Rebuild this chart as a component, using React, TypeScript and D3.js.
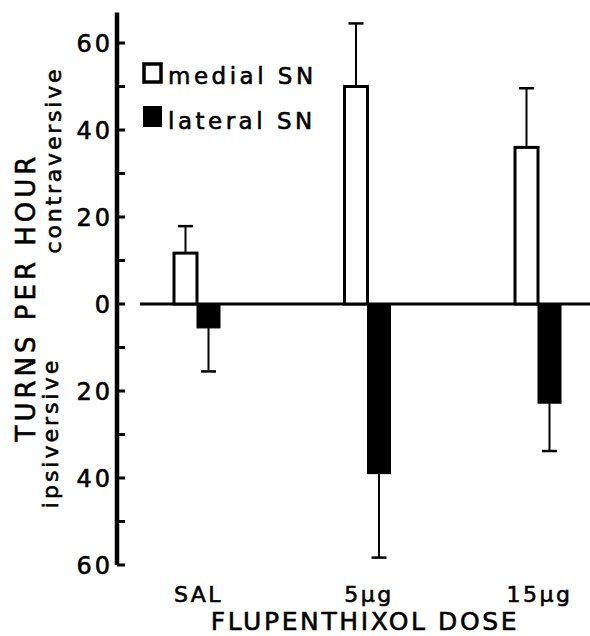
import { useEffect } from 'react';
import * as d3 from 'd3';

const categories = ['SAL', '5\u00b5g', '15\u00b5g'];
const medialMean = [11.7, 50, 36];
const medialSem = [6.2, 14.5, 13.6];
const lateralMean = [-5.5, -39, -22.8];
const lateralSem = [10, 19.3, 11];
const majorTicks = [-60, -40, -20, 0, 20, 40, 60];
const minorTicks = [-50, -30, -10, 10, 30, 50];
const legendLabels = ['medial SN', 'lateral SN'];

const W = 590, H = 636;
const font = '"DejaVu Sans", sans-serif';
// thicker glyphs, the scan has heavy type
const ink = { fill: '#000', stroke: '#000', strokeWidth: 0.6 };

const App = () => {
    useEffect(() => {
        document.body.style.margin = '0';
    }, []);

    const axisX = 117;
    const y = d3.scaleLinear().domain([-60, 60]).range([565, 43]);
    const x = d3.scalePoint().domain(categories).range([197, 538]);
    const barW = 23;
    const capW = 15;

    const bars = categories.map((c, i) => ({
        cat: c,
        cx: x(c),
        medial: medialMean[i],
        medialErr: medialSem[i],
        lateral: lateralMean[i],
        lateralErr: lateralSem[i],
    }));

    return (
        <svg width={W} height={H} viewBox={`0 0 ${W} ${H}`} style={{ display: 'block', background: '#fff' }} fontFamily={font}>
            {/* y axis */}
            <line x1={axisX} x2={axisX} y1={y(67)} y2={y(-60)} stroke="#000" strokeWidth={4.5} />
            {[...majorTicks, ...minorTicks].map((t) => (
                <line key={'t' + t} x1={axisX} x2={axisX + 8} y1={y(t)} y2={y(t)} stroke="#000" strokeWidth={3} />
            ))}
            {majorTicks.map((t) => (
                <text key={'l' + t} x={axisX - 4} y={y(t) + 9} textAnchor="end" fontSize={24} letterSpacing={3} {...ink}>
                    {Math.abs(t)}
                </text>
            ))}

            {/* zero line */}
            <line x1={140} x2={W} y1={y(0)} y2={y(0)} stroke="#000" strokeWidth={3} />

            {/* bars */}
            {bars.map((b) => (
                <g key={b.cat}>
                    <line x1={b.cx - barW / 2} x2={b.cx - barW / 2} y1={y(b.medial)} y2={y(b.medial + b.medialErr)} stroke="#000" strokeWidth={2} />
                    <line x1={b.cx - barW / 2 - capW / 2} x2={b.cx - barW / 2 + capW / 2} y1={y(b.medial + b.medialErr)} y2={y(b.medial + b.medialErr)} stroke="#000" strokeWidth={2.5} />
                    <rect x={b.cx - barW} y={y(b.medial)} width={barW} height={y(0) - y(b.medial)} fill="#fff" stroke="#000" strokeWidth={3} />

                    <line x1={b.cx + barW / 2} x2={b.cx + barW / 2} y1={y(b.lateral)} y2={y(b.lateral - b.lateralErr)} stroke="#000" strokeWidth={2} />
                    <line x1={b.cx + barW / 2 - capW / 2} x2={b.cx + barW / 2 + capW / 2} y1={y(b.lateral - b.lateralErr)} y2={y(b.lateral - b.lateralErr)} stroke="#000" strokeWidth={2.5} />
                    <rect x={b.cx} y={y(0)} width={barW} height={y(b.lateral) - y(0)} fill="#000" stroke="#000" strokeWidth={1} />

                    <text x={b.cx + 1.5} y={602} textAnchor="middle" fontSize={22} letterSpacing={2.5} {...ink}>{b.cat}</text>
                </g>
            ))}

            {/* legend */}
            <rect x={144} y={64} width={17} height={18} fill="#fff" stroke="#000" strokeWidth={3.5} />
            <rect x={143} y={106} width={19} height={21} fill="#000" />
            <text x={168} y={84} fontSize={23} letterSpacing={3.5} {...ink}>{legendLabels[0]}</text>
            <text x={168} y={129} fontSize={23} letterSpacing={3.5} {...ink}>{legendLabels[1]}</text>

            {/* axis titles */}
            <text x={365} y={630} textAnchor="middle" fontSize={25} letterSpacing={2.6} {...ink}>FLUPENTHIXOL DOSE</text>
            <text transform="translate(35,297) rotate(-90)" textAnchor="middle" fontSize={26} letterSpacing={4} {...ink}>TURNS PER HOUR</text>
            <text transform="translate(61,160) rotate(-90)" textAnchor="middle" fontSize={22} letterSpacing={2.8} {...ink}>contraversive</text>
            <text transform="translate(58,433) rotate(-90)" textAnchor="middle" fontSize={22} letterSpacing={3} {...ink}>ipsiversive</text>
        </svg>
    );
};

export default App;
